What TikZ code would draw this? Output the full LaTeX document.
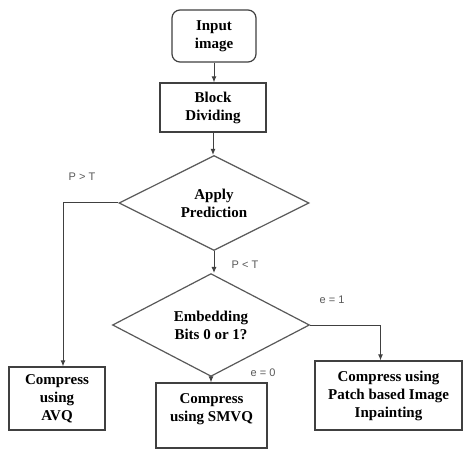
\documentclass[tikz,border=0pt]{standalone}
\usepackage{fontspec}
\setmainfont{Liberation Serif}
\newfontfamily\labelfont{Liberation Sans}
\usetikzlibrary{shapes.geometric,arrows.meta}
\begin{document}
\begin{tikzpicture}[x=1pt,y=-1pt,
  boxfont/.style={font=\bfseries\fontsize{15}{18}\selectfont, align=center},
  stepbox/.style={draw=black!75, line width=1.2pt, rectangle, inner sep=0pt, boxfont},
  roundbox/.style={stepbox, rounded corners=8pt},
  decide/.style={draw=black!65, line width=1.2pt, diamond, inner sep=0pt, boxfont},
  conn/.style={draw=black!75, line width=1pt, -{Latex[length=6pt,width=5pt]}},
  cond/.style={font=\labelfont\fontsize{11}{12}\selectfont, text=black!65}
]
\useasboundingbox (0,0) rectangle (466,449);
\fill[white] (0,0) rectangle (466,449);

\node[roundbox, minimum width=84pt, minimum height=52pt] (input) at (214,36) {Input\\image};
\node[stepbox, minimum width=106pt, minimum height=49pt] (block) at (213,107.5) {Block\\Dividing};
\node[decide, minimum width=190pt, minimum height=94pt] (apply) at (214,203) {Apply\\Prediction};
\node[decide, minimum width=197pt, minimum height=86pt] (embed) at (211,325) {Embedding\\Bits 0 or 1?};
\node[stepbox, minimum width=96pt, minimum height=63pt] (avq) at (57,398.5) {Compress\\using\\AVQ};
\node[stepbox, minimum width=111pt, minimum height=65pt, text depth=16pt] (smvq) at (211.5,415.5) {Compress\\using SMVQ};
\node[stepbox, minimum width=147pt, minimum height=69pt] (patch) at (388.5,395.5) {Compress using\\Patch based Image\\Inpainting};

\draw[conn] (input.south) -- (input.south |- block.north);
\draw[conn] (block.south) -- (block.south |- apply.north);
\draw[conn] (apply.west) -| ([xshift=6pt]avq.north);
\draw[conn] (apply.south) -- (apply.south |- embed.north);
\draw[conn] (embed.east) -| ([xshift=-8pt]patch.north);
\draw[conn] (embed.south) -- (embed.south |- smvq.north);

\node[cond] (pgt) at (82,177) {P > T};
\node[cond] (plt) at (245,265) {P < T};
\node[cond] (e1) at (332,300) {e = 1};
\node[cond] (e0) at (263,373) {e = 0};
\end{tikzpicture}
\end{document}
